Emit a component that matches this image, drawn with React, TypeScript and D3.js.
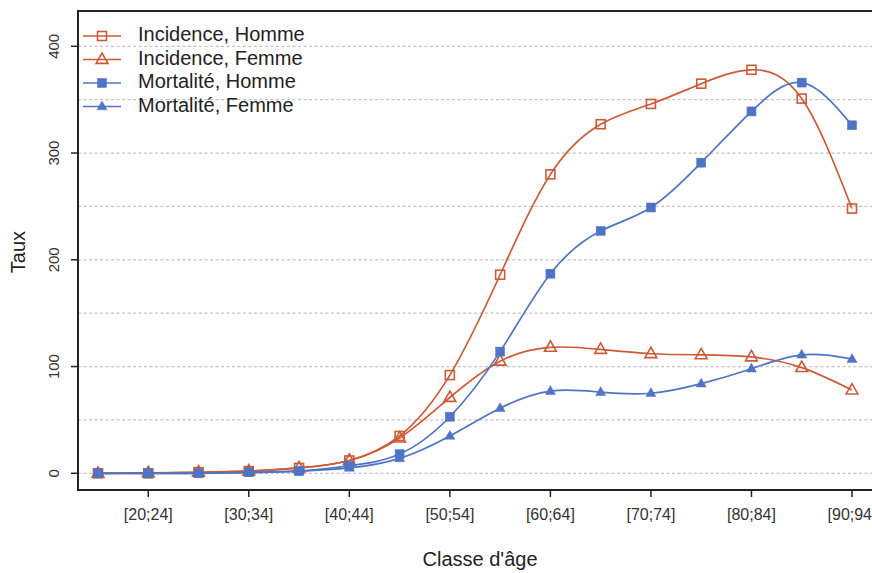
import React from "react";
import * as d3 from "d3";

const categories = ["[15;19]","[20;24]","[25;29]","[30;34]","[35;39]","[40;44]","[45;49]","[50;54]","[55;59]","[60;64]","[65;69]","[70;74]","[75;79]","[80;84]","[85;89]","[90;94]"];
const incidenceHomme = [0, 0, 1, 2, 5, 12, 35, 92, 186, 280, 327, 346, 365, 378, 351, 248];
const incidenceFemme = [0, 0.5, 1, 2, 5, 12, 33, 71, 105, 118, 116, 112, 111, 109, 99, 78];
const mortaliteHomme = [0, 0, 0, 1, 2, 7, 18, 53, 114, 187, 227, 249, 291, 339, 366, 326];
const mortaliteFemme = [0, 0, 0, 0.5, 2, 5, 14, 35, 61, 77, 76, 75, 84, 98, 111, 107];
const yTicks = [0, 100, 200, 300, 400];
const gridValues = [0, 50, 100, 150, 200, 250, 300, 350, 400];
const legendLabels = ["Incidence, Homme", "Incidence, Femme", "Mortalité, Homme", "Mortalité, Femme"];

const RED = "#CC5A36";
const BLUE = "#4F74C6";

export default function App() {
  const W = 872, H = 573;
  const left = 78, top = 11, right = 880, bottom = 490;
  const x = d3.scaleLinear().domain([0, 15]).range([98, 852]);
  const y = d3.scaleLinear().domain([0, 400]).range([473.3, 46.3]);
  const line = d3.line<number>().x((_, i) => x(i)).y((d) => y(d)).curve(d3.curveNatural);

  const series = [
    { data: incidenceHomme, color: RED, shape: "square", filled: false },
    { data: incidenceFemme, color: RED, shape: "triangle", filled: false },
    { data: mortaliteHomme, color: BLUE, shape: "square", filled: true },
    { data: mortaliteFemme, color: BLUE, shape: "triangle", filled: true },
  ];

  const marker = (shape: string, filled: boolean, color: string, cx: number, cy: number, key: any) => {
    if (shape === "square") {
      const s = filled ? 9 : 9;
      return (
        <rect key={key} x={cx - s / 2} y={cy - s / 2} width={s} height={s}
          fill={filled ? color : "none"} stroke={color} strokeWidth={filled ? 0.5 : 1.6} />
      );
    }
    const r = filled ? 5.5 : 6.5;
    const pts = [
      [cx, cy - r],
      [cx + r * 0.866 * 1.05, cy + r * 0.6],
      [cx - r * 0.866 * 1.05, cy + r * 0.6],
    ];
    return (
      <polygon key={key} points={pts.map((p) => p.join(",")).join(" ")}
        fill={filled ? color : "none"} stroke={color} strokeWidth={filled ? 0.5 : 1.6} />
    );
  };

  const font = "Liberation Sans, Arial, Helvetica, sans-serif";

  return (
    <svg width={W} height={H} style={{ position: "absolute", left: 0, top: 0 }} fontFamily={font}>
      <rect x={0} y={0} width={W} height={H} fill="white" />
      {gridValues.map((v) => (
        <line key={v} x1={left} x2={W} y1={y(v)} y2={y(v)} stroke="#c4c4c4" strokeWidth={1.3} strokeDasharray="3 2.5" />
      ))}
      {series.map((s, si) => (
        <g key={si}>
          <path d={line(s.data) || ""} fill="none" stroke={s.color} strokeWidth={1.7} />
          {s.data.map((v, i) => marker(s.shape, s.filled, s.color, x(i), y(v), i))}
        </g>
      ))}
      {/* box */}
      <rect x={left} y={top} width={right - left} height={bottom - top} fill="none" stroke="#222" strokeWidth={2} />
      {/* y ticks */}
      {yTicks.map((v) => (
        <g key={v}>
          <line x1={left - 7} x2={left} y1={y(v)} y2={y(v)} stroke="#222" strokeWidth={1.5} />
          <text x={55} y={y(v)} transform={`rotate(-90 55 ${y(v)})`} textAnchor="middle" dominantBaseline="middle" fontSize={15} fill="#333">{v}</text>
        </g>
      ))}
      {/* x ticks */}
      {categories.map((c, i) => (i % 2 === 1 ? (
        <g key={c}>
          <line x1={x(i)} x2={x(i)} y1={bottom} y2={bottom + 7} stroke="#222" strokeWidth={1.5} />
          <text x={x(i)} y={516} textAnchor="middle" dominantBaseline="middle" fontSize={16} fill="#333">{c}</text>
        </g>
      ) : null))}
      <text x={480} y={561} textAnchor="middle" dominantBaseline="middle" fontSize={20} fill="#222">Classe d'âge</text>
      <text x={20} y={252} transform="rotate(-90 20 252)" textAnchor="middle" dominantBaseline="middle" fontSize={20} fill="#222">Taux</text>
      {/* legend */}
      {series.map((s, i) => {
        const ly = 36 + i * 23.5;
        return (
          <g key={"lg" + i}>
            <line x1={83} x2={121} y1={ly} y2={ly} stroke={s.color} strokeWidth={1.7} />
            {marker(s.shape, s.filled, s.color, 102, ly, "m")}
            <text x={138} y={ly} dominantBaseline="middle" fontSize={20} fill="#222">{legendLabels[i]}</text>
          </g>
        );
      })}
    </svg>
  );
}
